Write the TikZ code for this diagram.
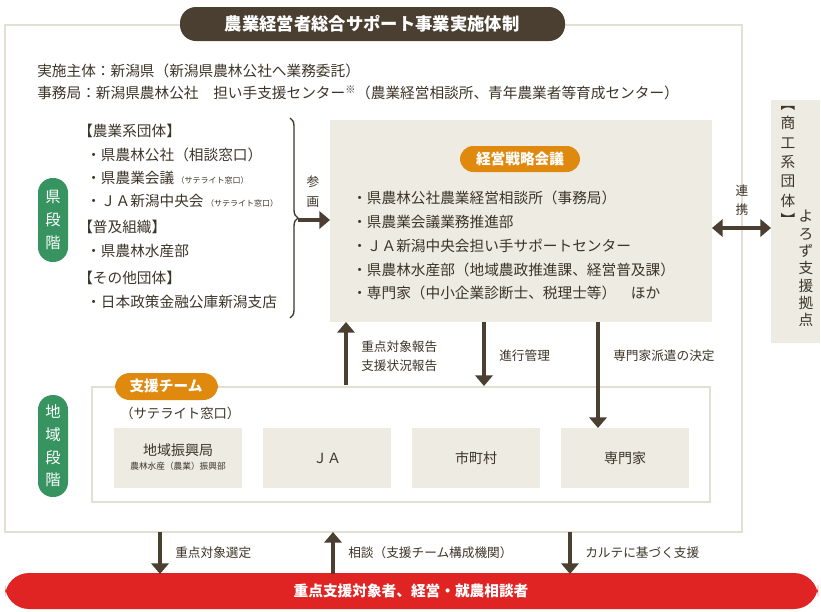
\documentclass[tikz,border=0pt]{standalone}
\usepackage{fontspec}
\setmainfont{Noto Sans CJK JP}
\usetikzlibrary{arrows.meta,decorations.pathreplacing}
\definecolor{ink}{HTML}{3C3428}
\definecolor{dbrown}{HTML}{4A3F30}
\definecolor{beige}{HTML}{EEEBE3}
\definecolor{frame}{HTML}{E3DFD3}
\definecolor{grn}{HTML}{379461}
\definecolor{org}{HTML}{E0890F}
\definecolor{rd}{HTML}{E02424}
\newcommand{\smallsat}{\fontsize{6}{7}\selectfont}
\tikzset{
 txt/.style={anchor=west,inner sep=0,text=ink,font=\fontsize{11}{12}\selectfont},
 lbl/.style={anchor=west,inner sep=0,text=ink,font=\fontsize{9.5}{11}\selectfont},
 harrow/.style={draw=dbrown,line width=3.6pt,-{Triangle[length=8pt,width=13pt]}},
 darrow/.style={draw=dbrown,line width=3.6pt,{Triangle[length=8pt,width=13pt]}-{Triangle[length=8pt,width=13pt]}},
 box/.style={fill=beige,draw=none},
}
\begin{document}
\begin{tikzpicture}[x=0.75pt,y=-0.75pt]
\useasboundingbox (0,0) rectangle (821,611);
% outer frame
\draw[frame,line width=1.2pt] (5,25) rectangle (742,532);
\fill[dbrown,rounded corners=12] (180,7) rectangle (565,41);
\node[text=white,font=\fontsize{13}{14}\selectfont\bfseries] (title) at (372,24) {農業経営者総合サポート事業実施体制};
\node[txt] (l1) at (37,71) {実施主体：新潟県（新潟県農林公社へ業務委託）};
\node[txt] (l2) at (37,93) {事務局：新潟県農林公社　担い手支援センター\textsuperscript{※}（農業経営相談所、青年農業者等育成センター）};
% green pills
\fill[grn,rounded corners=11] (38,178) rectangle (68,262);
\node[text=white,align=center,font=\fontsize{11.5}{17}\selectfont] (ken) at (53,220) {県\\段\\階};
\fill[grn,rounded corners=11] (38,395) rectangle (68,497);
\node[text=white,align=center,font=\fontsize{11.5}{17}\selectfont] (chiiki) at (53,446) {地\\域\\段\\階};
% left list
\node[txt] (h1) at (78,131) {【農業系団体】};
\node[txt] (a1) at (86,155) {・県農林公社（相談窓口）};
\node[txt] (a2) at (86,178) {・県農業会議\,{\smallsat（サテライト窓口）}};
\node[txt] (a3) at (86,201) {・ＪＡ新潟中央会\,{\smallsat（サテライト窓口）}};
\node[txt] (h2) at (78,227) {【普及組織】};
\node[txt] (a4) at (86,251) {・県農林水産部};
\node[txt] (h3) at (78,278) {【その他団体】};
\node[txt] (a5) at (86,302) {・日本政策金融公庫新潟支店};
\draw[ink,line width=1pt,decorate,decoration={brace,amplitude=6pt}] (290,118) -- (290,318);
\coordinate (bt) at (298,220);
\node[lbl,anchor=center,align=center,font=\fontsize{9.5}{15}\selectfont] (sankaku) at (313,192) {参\\画};
% meeting box
\fill[box] (330,120) rectangle (712,322);
\coordinate (mtgL) at (330,220);
\fill[org,rounded corners=10] (460,146) rectangle (580,172);
\node[text=white,font=\fontsize{11}{12}\selectfont\bfseries] (mtg) at (520,159) {経営戦略会議};
\node[txt] (m1) at (352,198) {・県農林公社農業経営相談所（事務局）};
\node[txt] (m2) at (352,222) {・県農業会議業務推進部};
\node[txt] (m3) at (352,246) {・ＪＡ新潟中央会担い手サポートセンター};
\node[txt] (m4) at (352,270) {・県農林水産部（地域農政推進課、経営普及課）};
\node[txt] (m5) at (352,293) {・専門家（中小企業診断士、税理士等）\quad ほか};
\draw[harrow] (bt) -- (mtgL);
% right box
\fill[beige] (771,100) rectangle (820,343);
\node[txt,anchor=north,align=center,font=\fontsize{11}{14.5}\selectfont] (r1) at (788,106) {︻\\商\\工\\系\\団\\体\\︼};
\node[txt,anchor=north,align=center,font=\fontsize{11}{13}\selectfont] (r2) at (806,210) {よ\\ろ\\ず\\支\\援\\拠\\点};
\coordinate (mtgR) at (712,228);
\coordinate (rbL) at (771,228);
\draw[darrow] (mtgR) -- (rbL);
\node[lbl,anchor=center,align=center,font=\fontsize{9.5}{14}\selectfont] (renkei) at (742,200) {連\\携};
% team box
\draw[frame,fill=white,line width=1pt] (92,387) rectangle (710,502);
\fill[org,rounded corners=11] (115,373) rectangle (218,400);
\node[text=white,font=\fontsize{11}{12}\selectfont\bfseries] (team) at (166,386) {支援チーム};
\node[txt,font=\fontsize{10}{11}\selectfont] (sat) at (120,413) {（サテライト窓口）};
\fill[box] (114,428) rectangle (242,488);
\node[text=ink,align=center,font=\fontsize{10.5}{11}\selectfont] (b1) at (178,450) {地域振興局};
\node[text=ink,font=\fontsize{6.5}{7}\selectfont] (b1s) at (178,466) {農林水産（農業）振興部};
\fill[box] (263,428) rectangle (391,488);
\node[text=ink,font=\fontsize{10.5}{11}\selectfont] (b2) at (327,458) {ＪＡ};
\fill[box] (412,428) rectangle (540,488);
\node[text=ink,font=\fontsize{10.5}{11}\selectfont] (b3) at (476,458) {市町村};
\fill[box] (561,428) rectangle (689,488);
\node[text=ink,font=\fontsize{10.5}{11}\selectfont] (b4) at (625,458) {専門家};
% vertical arrows
\coordinate (u1a) at (346,385); \coordinate (u1b) at (346,322);
\draw[harrow] (u1a) -- (u1b);
\node[lbl,align=left,font=\fontsize{9.5}{14}\selectfont] (rep) at (361,356) {重点対象報告\\支援状況報告};
\coordinate (d1a) at (484,322); \coordinate (d1b) at (484,386);
\draw[harrow] (d1a) -- (d1b);
\node[lbl] (shinko) at (499,356) {進行管理};
\coordinate (d2a) at (598,322); \coordinate (d2b) at (598,428);
\draw[harrow] (d2a) -- (d2b);
\node[lbl] (haken) at (613,356) {専門家派遣の決定};
% bottom
\fill[rd,rounded corners=18] (5,573) rectangle (818,609);
\node[text=white,font=\fontsize{11}{12}\selectfont\bfseries] (target) at (411,591) {重点支援対象者、経営・就農相談者};
\coordinate (e1a) at (160,532); \coordinate (e1b) at (160,574);
\draw[harrow] (e1a) -- (e1b);
\node[lbl] (sentei) at (175,553) {重点対象選定};
\coordinate (e2a) at (333,574); \coordinate (e2b) at (333,532);
\draw[harrow] (e2a) -- (e2b);
\node[lbl] (soudan) at (348,553) {相談（支援チーム構成機関）};
\coordinate (e3a) at (570,532); \coordinate (e3b) at (570,574);
\draw[harrow] (e3a) -- (e3b);
\node[lbl] (karte) at (585,553) {カルテに基づく支援};
\end{tikzpicture}
\end{document}
